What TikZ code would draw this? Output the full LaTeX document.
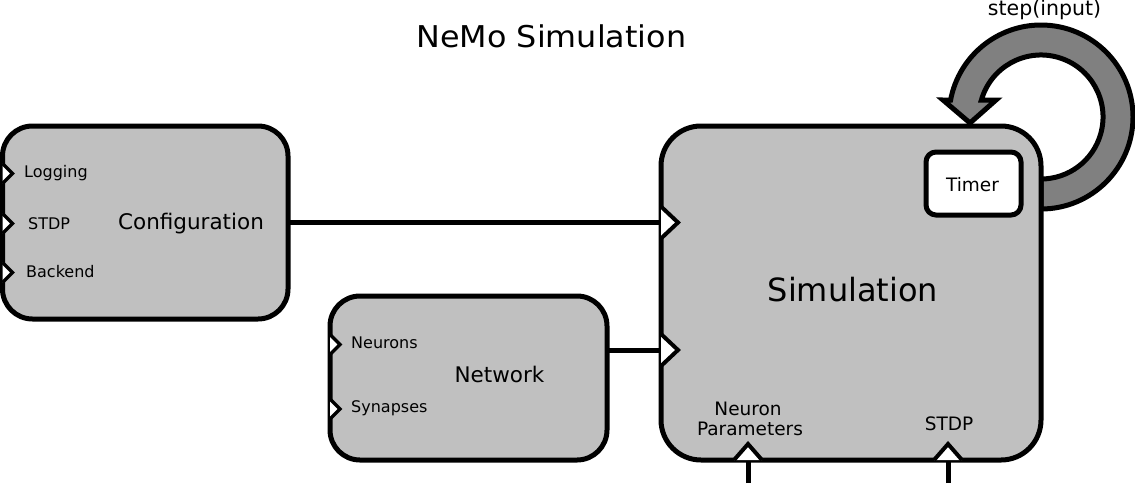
\documentclass[tikz,border=0pt]{standalone}
\usepackage{fontspec}
\setmainfont{DejaVu Sans}
\definecolor{boxgray}{RGB}{192,192,192}
\definecolor{loopgray}{RGB}{128,128,128}
\begin{document}
\begin{tikzpicture}[x=1pt,y=-1pt,
  block/.style={draw=black, fill=boxgray, line width=5pt, inner sep=0pt, outer sep=0pt},
  timerbox/.style={draw=black, fill=white, line width=5pt, rounded corners=10pt, inner sep=0pt, outer sep=0pt},
  port/.style={draw=black, fill=white, line width=4pt, line join=miter},
  conn/.style={draw=black, line width=5pt},
  loopshape/.style={draw=black, fill=loopgray, line width=5pt, line join=miter},
  small/.style={font=\fontsize{16}{18}\selectfont, inner sep=0pt, anchor=base west},
  mid/.style={font=\fontsize{18.5}{21}\selectfont, inner sep=0pt, anchor=base},
  large/.style={font=\fontsize{21.5}{25}\selectfont, inner sep=0pt, anchor=base},
]
\useasboundingbox (0,0) rectangle (1135,483);

% title
\node[inner sep=0pt, anchor=base, font=\fontsize{30}{34}\selectfont] (title) at (551.5,47) {\scalebox{1.06}[1]{NeMo Simulation}};
\node[inner sep=0pt, anchor=base, font=\fontsize{20.5}{24}\selectfont] (steplbl) at (1044.5,15) {step(input)};

% self loop arrow
\draw[loopshape] (1041,209) arc[start angle=90, end angle=-169.4, radius=92]
  -- (943,100) -- (970,123) -- (996,100) -- (981.4,100)
  arc[start angle=-164.1, end angle=90, radius=62] -- cycle;

% blocks
\node[block, rounded corners=30pt, minimum width=285.5pt, minimum height=193pt] (config) at (145.25,222.5) {};
\node[block, rounded corners=30pt, minimum width=277pt, minimum height=164pt] (net) at (468.5,378) {};
\node[block, rounded corners=40pt, minimum width=380pt, minimum height=334pt] (sim) at (851,293) {};
\node[timerbox, minimum width=95pt, minimum height=63pt] (timer) at (973.5,183.5) {};

% port coordinates
\coordinate (simIn1) at (661,222.5);
\coordinate (simIn2) at (661,350);
\coordinate (simPar) at (748,460);
\coordinate (simStdp) at (948,460);
\coordinate (parSrc) at (748,483);
\coordinate (stdpSrc) at (948,483);

% connectors
\draw[conn] (config.east) -- (simIn1);
\draw[conn] (net.east |- simIn2) -- (simIn2);
\draw[conn] (parSrc) -- (simPar);
\draw[conn] (stdpSrc) -- (simStdp);

% input ports on simulation
\draw[port] ([yshift=-16pt]simIn1) -- ([xshift=17pt]simIn1) -- ([yshift=16pt]simIn1);
\draw[port] ([yshift=-16pt]simIn2) -- ([xshift=17pt]simIn2) -- ([yshift=16pt]simIn2);
\draw[port] ([xshift=-14pt]simPar) -- ([yshift=16pt]simPar) -- ([xshift=14pt]simPar);
\draw[port] ([xshift=-14pt]simStdp) -- ([yshift=16pt]simStdp) -- ([xshift=14pt]simStdp);

% small ports on configuration and network
\foreach \py in {173.5,223.5,272.5}{
  \draw[port, line width=3.5pt] (2.5,\py-10) -- (12.5,\py) -- (2.5,\py+10);
}
\foreach \py in {344.5,409}{
  \draw[port, line width=3.5pt] (330,\py-10) -- (340,\py) -- (330,\py+10);
}

% labels
\node[small] (lLog) at (24,177.3) {Logging};
\node[small] (lStdp) at (28,229) {STDP};
\node[small] (lBack) at (26,277.7) {Backend};
\node[large] (lConf) at (191,229) {Configuration};
\node[small] (lNeu) at (351,348.3) {Neurons};
\node[small] (lSyn) at (351,412.7) {Synapses};
\node[large] (lNet) at (499.5,382.7) {Network};
\node[inner sep=0pt, anchor=base, font=\fontsize{32}{36}\selectfont] (lSim) at (853,301) {Simulation};
\node[mid] (lTimer) at (972.5,191.7) {Timer};
\node[mid] (lNeuron) at (748,415) {Neuron};
\node[mid] (lParams) at (750,435) {Parameters};
\node[mid] (lSimStdp) at (949,430) {STDP};
\end{tikzpicture}
\end{document}
